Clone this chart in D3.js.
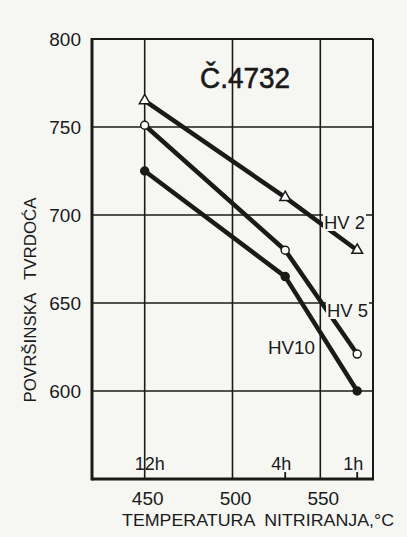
<!DOCTYPE html>
<html>
<head>
<meta charset="utf-8">
<script src="https://cdn.jsdelivr.net/npm/d3@7"></script>
<style>
  html, body { margin: 0; padding: 0; background: #f6f6f3; }
  svg { display: block; }
  text { font-family: "Liberation Sans", Arial, sans-serif; fill: #1a1a1a; white-space: pre; }
</style>
</head>
<body>
<svg width="407" height="537"></svg>
<script>
// temperature of nitriding (°C) and matching duration
const temps = [450, 530, 571]
const durations = ['12h', '4h', '1h']
// surface hardness per load
const hv2 = [765, 710, 680]
const hv5 = [751, 680, 621]
const hv10 = [725, 665, 600]
const yTicks = [600, 650, 700, 750, 800]
const xTicks = [450, 500, 550]

const bg = '#f6f6f3'
const ink = '#1a1a1a'

const svg = d3.select('svg')
svg.append('rect').attr('width', 407).attr('height', 537).attr('fill', bg)

const xScale = d3.scaleLinear().domain([420, 580]).range([92, 373])
const yScale = d3.scaleLinear().domain([550, 800]).range([479, 39])

// grid
svg.append('g').selectAll('line')
  .data(yTicks.slice(0, -1))
  .enter().append('line')
  .attr('x1', xScale(420)).attr('x2', xScale(580))
  .attr('y1', d => yScale(d)).attr('y2', d => yScale(d))
  .attr('stroke', ink).attr('stroke-width', 1.6)

svg.append('g').selectAll('line')
  .data(xTicks)
  .enter().append('line')
  .attr('x1', d => xScale(d)).attr('x2', d => xScale(d))
  .attr('y1', yScale(800)).attr('y2', yScale(550))
  .attr('stroke', ink).attr('stroke-width', 1.6)

// frame
svg.append('line').attr('x1', xScale(420)).attr('x2', xScale(580))
  .attr('y1', yScale(800)).attr('y2', yScale(800)).attr('stroke', ink).attr('stroke-width', 2)
svg.append('line').attr('x1', xScale(580)).attr('x2', xScale(580))
  .attr('y1', yScale(800)).attr('y2', yScale(550)).attr('stroke', ink).attr('stroke-width', 2)
svg.append('line').attr('x1', xScale(420)).attr('x2', xScale(420))
  .attr('y1', yScale(800) - 1).attr('y2', yScale(550) + 1.5).attr('stroke', ink).attr('stroke-width', 3)
svg.append('line').attr('x1', xScale(420)).attr('x2', xScale(580) + 1)
  .attr('y1', yScale(550)).attr('y2', yScale(550)).attr('stroke', ink).attr('stroke-width', 3)

// duration ticks on bottom
svg.append('g').selectAll('line')
  .data(temps.slice(1))
  .enter().append('line')
  .attr('x1', d => xScale(d)).attr('x2', d => xScale(d))
  .attr('y1', yScale(550)).attr('y2', yScale(550) - 7)
  .attr('stroke', ink).attr('stroke-width', 1.8)

svg.append('g').selectAll('text')
  .data(durations)
  .enter().append('text')
  .attr('x', (d, i) => xScale(temps[i]) + (i == 0 ? 5 : -4))
  .attr('y', 470)
  .attr('text-anchor', 'middle')
  .attr('font-size', 18)
  .text(d => d)

// axis labels
svg.append('g').selectAll('text')
  .data(yTicks)
  .enter().append('text')
  .attr('x', 81)
  .attr('y', d => yScale(d) + 7)
  .attr('text-anchor', 'end')
  .attr('font-size', 19)
  .text(d => d)

svg.append('g').selectAll('text')
  .data(xTicks)
  .enter().append('text')
  .attr('x', d => xScale(d) + 3)
  .attr('y', 505)
  .attr('text-anchor', 'middle')
  .attr('font-size', 19)
  .text(d => d)

svg.append('text')
  .attr('x', 122).attr('y', 526)
  .attr('font-size', 17)
  .attr('textLength', 272)
  .attr('lengthAdjust', 'spacingAndGlyphs')
  .text('TEMPERATURA  NITRIRANJA,°C')

svg.append('text')
  .attr('transform', 'translate(36,300) rotate(-90)')
  .attr('text-anchor', 'middle')
  .attr('font-size', 16)
  .attr('textLength', 205)
  .attr('lengthAdjust', 'spacingAndGlyphs')
  .text('POVRŠINSKA   TVRDOĆA')

svg.append('text')
  .attr('x', 200).attr('y', 88)
  .attr('font-size', 29)
  .attr('stroke', ink).attr('stroke-width', 0.6)
  .attr('textLength', 90)
  .attr('lengthAdjust', 'spacingAndGlyphs')
  .text('Č.4732')

// series
const series = [
  { name: 'HV 2', values: hv2, marker: 'triangle', lx: 324, ly: 222 },
  { name: 'HV 5', values: hv5, marker: 'circle', lx: 327, ly: 310 },
  { name: 'HV10', values: hv10, marker: 'dot', lx: 268, ly: 347 }
]

const line = d3.line()
  .x((d, i) => xScale(temps[i]))
  .y(d => yScale(d))

series.forEach(s => {
  svg.append('path')
    .attr('d', line(s.values))
    .attr('fill', 'none')
    .attr('stroke', ink)
    .attr('stroke-width', 4.5)
    .attr('stroke-linejoin', 'round')

  const pts = svg.append('g').selectAll('path')
    .data(s.values)
    .enter().append('path')
    .attr('transform', (d, i) => `translate(${xScale(temps[i])},${yScale(d)})`)
    .attr('stroke', ink)
    .attr('stroke-width', 1.5)
  if (s.marker == 'triangle') {
    pts.attr('d', d3.symbol(d3.symbolTriangle, 50)).attr('fill', 'white')
  } else if (s.marker == 'circle') {
    pts.attr('d', d3.symbol(d3.symbolCircle, 50)).attr('fill', 'white')
  } else {
    pts.attr('d', d3.symbol(d3.symbolCircle, 50)).attr('fill', ink)
  }

  const lab = svg.append('g')
  const t = lab.append('text')
    .attr('x', s.lx).attr('y', s.ly + 7)
    .attr('font-size', 19)
    .attr('textLength', s.name == 'HV10' ? 47 : 41)
    .attr('lengthAdjust', 'spacingAndGlyphs')
    .text(s.name)
  const bb = t.node().getBBox()
  lab.insert('rect', 'text')
    .attr('x', bb.x - 1).attr('y', bb.y + 2)
    .attr('width', bb.width + 2).attr('height', bb.height - 4)
    .attr('fill', bg)
})
</script>
</body>
</html>
